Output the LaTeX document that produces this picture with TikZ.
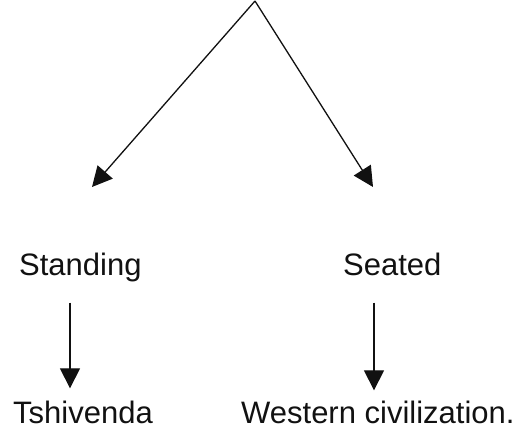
\documentclass[tikz,border=0pt]{standalone}
\usepackage{fontspec}
\setmainfont{Liberation Sans}
\usetikzlibrary{arrows.meta}
\definecolor{Ink}{HTML}{111111}

\begin{document}
\begin{tikzpicture}[x=1pt,y=-1pt,
      label/.style={anchor=base west,inner sep=2pt,text=Ink,
                    font=\fontsize{31}{37}\selectfont},
      flow/.style={-{Triangle[length=20pt,width=20pt]},line width=1.3pt,draw=Ink}]
    \useasboundingbox (0,0) rectangle (515,436);
    % top split
    \coordinate (apex) at (255,1);
    \coordinate (tipL) at (92,187);
    \coordinate (tipR) at (373,187);
    \draw[flow] (apex) -- (tipL);
    \draw[flow] (apex) -- (tipR);

    \node[label] (standing) at (17,276) {Standing};
    \node[label] (seated) at (341,276) {Seated};
    \node[label] (tshivenda) at (11,423) {Tshivenda};
    \node[label] (western) at (239,423) {Western civilization.};

    % downward links
    \coordinate (xl) at (70,0);
    \coordinate (xr) at (374,0);
    \draw[flow,shorten <=18pt,shorten >=10pt]
      (standing.south -| xl) -- (tshivenda.north -| xl);
    \draw[flow,shorten <=24pt,shorten >=8pt]
      (seated.south -| xr) -- (western.north -| xr);
  \end{tikzpicture}
\end{document}
